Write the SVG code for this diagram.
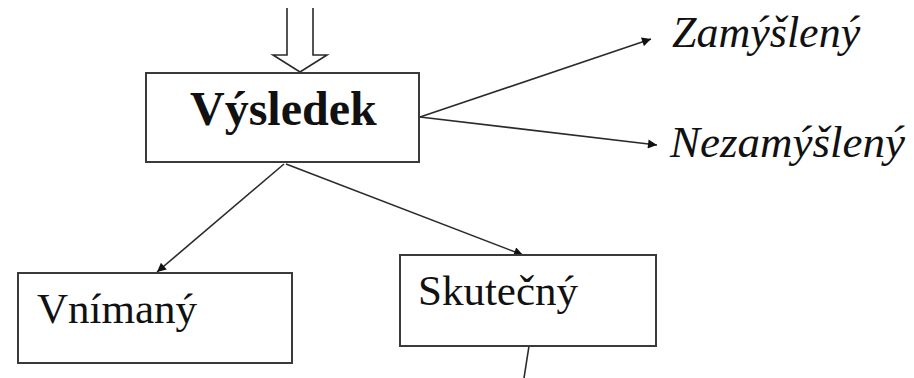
<svg xmlns="http://www.w3.org/2000/svg" width="914" height="378" viewBox="0 0 914 378">
<style>
.box{fill:#fff;stroke:#3a3a3a;stroke-width:2}
.c{stroke:#2a2a2a;stroke-width:1.6;fill:none}
.t{font-family:"Liberation Serif","Times New Roman",serif;fill:#111}
</style>
<defs>
<marker id="ah" viewBox="0 0 10 10" refX="10" refY="5" markerWidth="11" markerHeight="9" markerUnits="userSpaceOnUse" orient="auto">
<path d="M0,0 L10,5 L0,10 z" fill="#111"/>
</marker>
</defs>
<rect width="914" height="378" fill="#fff"/>
<g id="connectors">
<path class="c" d="M287,8 V55 H273 L300,72 L327,55 H313 V8" stroke="#555" stroke-width="2"/>
<line class="c" x1="420" y1="117" x2="651" y2="39" marker-end="url(#ah)"/>
<line class="c" x1="420" y1="117" x2="657" y2="145" marker-end="url(#ah)"/>
<line class="c" x1="284" y1="164" x2="157" y2="272" marker-end="url(#ah)"/>
<line class="c" x1="286" y1="164" x2="523" y2="255" marker-end="url(#ah)"/>
<line class="c" x1="529" y1="346" x2="524" y2="378"/>
</g>
<g id="vysledek">
<rect class="box" x="146" y="73" width="273" height="89"/>
<text class="t" x="190" y="125" font-size="48" font-weight="bold">Výsledek</text>
</g>
<g id="zamysleny">
<text class="t" x="672" y="47" font-size="44" font-style="italic">Zamýšlený</text>
</g>
<g id="nezamysleny">
<text class="t" x="670" y="157" font-size="45" font-style="italic">Nezamýšlený</text>
</g>
<g id="vnimany">
<rect class="box" x="18" y="273" width="274" height="90"/>
<text class="t" x="37" y="323" font-size="43">Vnímaný</text>
</g>
<g id="skutecny">
<rect class="box" x="400" y="255" width="256" height="91"/>
<text class="t" x="418" y="305" font-size="43">Skutečný</text>
</g>
</svg>
